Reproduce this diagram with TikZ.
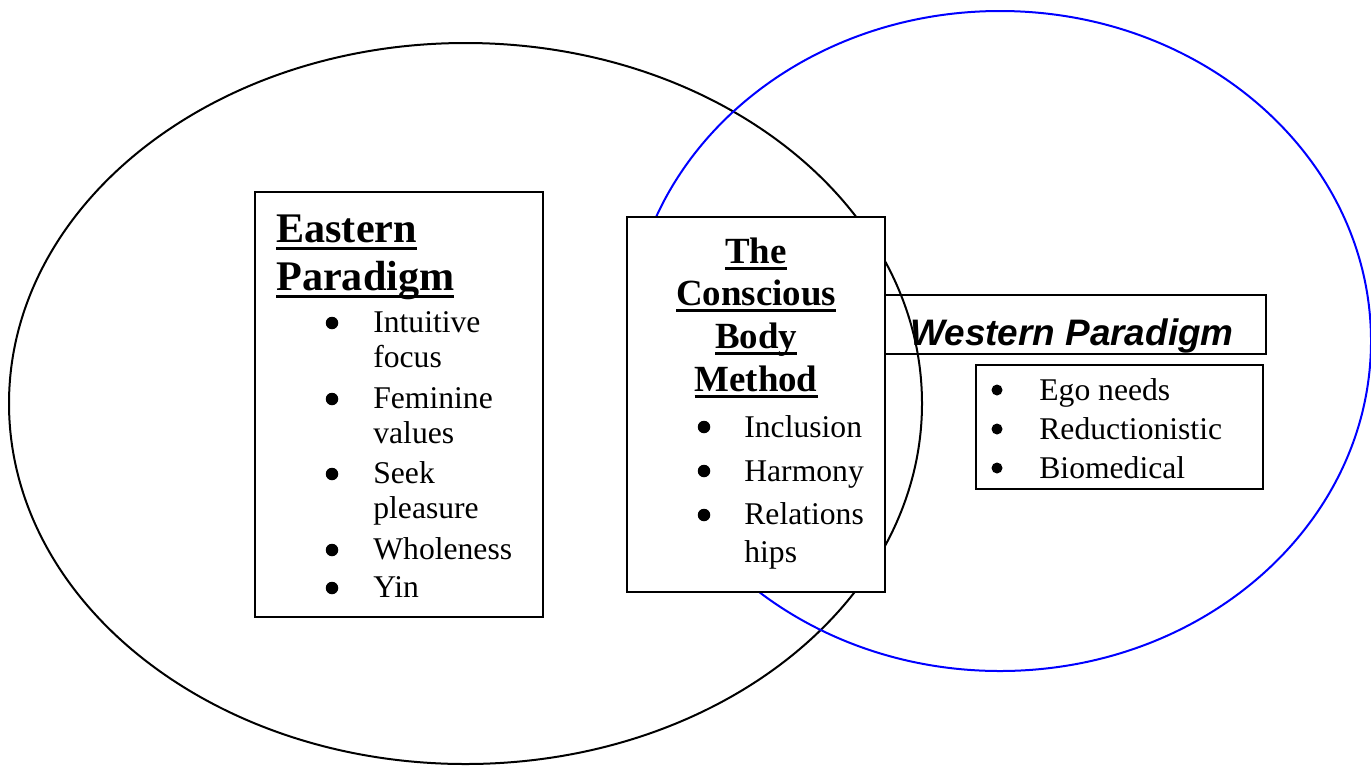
\documentclass[tikz,border=0pt]{standalone}
\usepackage{fontspec}
\setmainfont{Liberation Serif}
\newfontfamily\arialfont{Liberation Sans}
\newcommand{\undl}[1]{\setbox0\hbox{#1}\rlap{\rule[-0.19em]{\wd0}{0.08em}}\box0}

\begin{document}
\begin{tikzpicture}[x=0.02cm, y=-0.02cm,
	    box/.style={draw, line width=0.05cm, fill=white, inner sep=0pt},
	    txt/.style={anchor=base west, inner sep=0pt, font=\fontsize{18}{20}\selectfont},
	    hdE/.style={anchor=base west, inner sep=0pt, font=\bfseries\fontsize{24}{28}\selectfont},
	    hdC/.style={anchor=base, inner sep=0pt, font=\bfseries\fontsize{21}{25}\selectfont},
	    hdW/.style={anchor=base west, inner sep=0pt, font=\arialfont\bfseries\itshape\fontsize{21}{25}\selectfont},
	    bul/.style={circle, fill, inner sep=0pt, minimum size=0.25cm}]
	    \useasboundingbox (0,0) rectangle (1371,765);
	    
	    % the two paradigms
	    \draw[line width=0.04cm] (465.5,403.5) ellipse (456.5 and 360.5);
	    \draw[line width=0.04cm, blue] (1000,341) ellipse (371 and 330);
	    
	    % boxes
	    \node[box, fill=none, minimum width=7.62cm, minimum height=1.18cm] at (1075.5,324.5) (wHead) {};
	    \node[box, minimum width=5.74cm, minimum height=2.48cm] at (1119.5,427) (wList) {};
	    \node[box, minimum width=5.76cm, minimum height=8.5cm] at (399,404.5) (eBox) {};
	    \node[box, minimum width=5.16cm, minimum height=7.5cm] at (756,404.5) (cBox) {};
	    
	    % eastern paradigm
	    \node[hdE] at (276,242) (eTitleA) {\undl{Eastern}};
	    \node[hdE] at (276,290) (eTitleB) {\undl{Paradigm}};
	    \node[bul] at (332,323) (eB1) {};
	    \node[txt] at (373,332) (eI1a) {Intuitive};
	    \node[txt] at (373,367) (eI1b) {focus};
	    \node[bul] at (332,399) (eB2) {};
	    \node[txt] at (373,408) (eI2a) {Feminine};
	    \node[txt] at (373,443) (eI2b) {values};
	    \node[bul] at (332,474) (eB3) {};
	    \node[txt] at (373,483) (eI3a) {Seek};
	    \node[txt] at (373,518) (eI3b) {pleasure};
	    \node[bul] at (332,550) (eB4) {};
	    \node[txt] at (373,559) (eI4) {Wholeness};
	    \node[bul] at (332,588) (eB5) {};
	    \node[txt] at (373,597) (eI5) {Yin};
	    
	    % conscious body method
	    \node[hdC] at (756,263) (cTitleA) {\undl{The}};
	    \node[hdC] at (756,305) (cTitleB) {\undl{Conscious}};
	    \node[hdC] at (756,348) (cTitleC) {\undl{Body}};
	    \node[hdC] at (756,391) (cTitleD) {\undl{Method}};
	    \node[bul] at (704,427) (cB1) {};
	    \node[txt] at (744,437) (cI1) {Inclusion};
	    \node[bul] at (704,471) (cB2) {};
	    \node[txt] at (744,481) (cI2) {Harmony};
	    \node[bul] at (704,515) (cB3) {};
	    \node[txt] at (744,524) (cI3a) {Relations};
	    \node[txt] at (744,562) (cI3b) {hips};
	    
	    % western paradigm
	    \node[hdW] at (910,345) (wTitle) {Western Paradigm};
	    \node[bul, minimum size=0.22cm] at (997,390) (wB1) {};
	    \node[txt] at (1039,400) (wI1) {Ego needs};
	    \node[bul, minimum size=0.22cm] at (997,429) (wB2) {};
	    \node[txt] at (1039,439) (wI2) {Reductionistic};
	    \node[bul, minimum size=0.22cm] at (997,468) (wB3) {};
	    \node[txt] at (1039,478) (wI3) {Biomedical};
	    
	    \end{tikzpicture}
\end{document}
